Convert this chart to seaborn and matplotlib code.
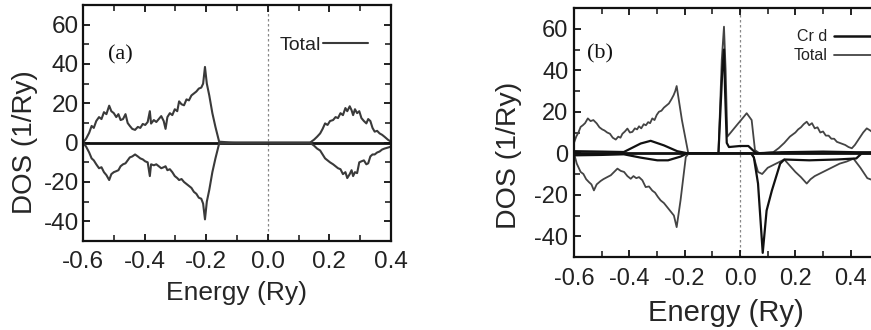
import matplotlib
matplotlib.use("Agg")
import matplotlib.pyplot as plt
import seaborn as sns
import pandas as pd
from matplotlib.ticker import MultipleLocator, FormatStrFormatter
from matplotlib.lines import Line2D

# ---- panel (a): total DOS, spin up / spin down ----
energy_a = [-0.600, -0.590, -0.580, -0.572, -0.565, -0.557, -0.548, -0.540, -0.532, -0.524,
            -0.515, -0.508, -0.500, -0.492, -0.485, -0.478, -0.470, -0.462, -0.455, -0.448,
            -0.440, -0.431, -0.422, -0.414, -0.406, -0.398, -0.390, -0.383, -0.379, -0.370,
            -0.362, -0.354, -0.346, -0.338, -0.332, -0.326, -0.318, -0.310, -0.302, -0.294,
            -0.288, -0.280, -0.272, -0.264, -0.256, -0.248, -0.240, -0.232, -0.224, -0.216,
            -0.210, -0.204, -0.198, -0.190, -0.180, -0.170, -0.158, -0.140, -0.100, 0.000,
            0.100, 0.137, 0.150, 0.160, 0.170, 0.178, 0.186, 0.194, 0.202, 0.212,
            0.220, 0.228, 0.236, 0.244, 0.252, 0.258, 0.266, 0.272, 0.277, 0.283,
            0.290, 0.297, 0.304, 0.312, 0.320, 0.326, 0.333, 0.340, 0.347, 0.355,
            0.363, 0.371, 0.379, 0.390, 0.400]
total_up_a = [0, 2, 5, 8.5, 7.5, 11, 13, 12, 15.5, 14.5,
              18.8, 16, 15, 13, 14.5, 11.5, 12, 14.5, 10, 8.5,
              7, 6.5, 8, 7.5, 9.5, 9, 10.5, 16, 9.7, 11.5,
              10.5, 12, 13.5, 11, 7, 13, 15, 14, 17, 16,
              21, 19.5, 19, 22, 21.5, 24, 25, 26, 27.5, 28,
              30, 38.5, 30, 24, 15, 8, 0.5, 0.3, 0, 0,
              0, 0, 1.5, 3, 4.7, 7, 9.8, 9, 11, 11.5,
              13, 12.5, 15, 14, 17.6, 16, 18.5, 16.5, 14, 17,
              15, 16, 12.5, 11, 9.8, 12, 11, 7.5, 5.6, 6,
              4.7, 4, 3, 1.5, 0.5]
total_dn_a = [0, -2, -5, -8, -9, -11, -13, -12.5, -15, -16.5,
              -19, -16, -15, -14.5, -14, -12, -11, -10.5, -9, -7.5,
              -7, -6, -7, -8, -8.5, -9.5, -10, -17, -11, -11.5,
              -11, -12, -13, -12.5, -12, -14, -13.5, -15, -17, -18,
              -19, -18.5, -20, -21, -22, -23, -25, -26, -28, -28.5,
              -31, -39, -30, -24, -15, -8, -0.5, -0.3, 0, 0,
              0, 0, -1.5, -3, -4, -6, -8, -9, -10, -11,
              -12, -13, -13.5, -16, -15, -18, -16, -14, -17, -15,
              -15.5, -10, -9.5, -9, -11, -10.5, -7, -6, -6, -5,
              -4.5, -3.5, -3, -2.5, -2]

# ---- panel (b): Cr d and total DOS ----
energy_b_tot_up = [-0.600, -0.592, -0.584, -0.576, -0.568, -0.560, -0.550, -0.540, -0.530, -0.518,
                   -0.508, -0.498, -0.490, -0.480, -0.470, -0.460, -0.449, -0.440, -0.432, -0.425,
                   -0.416, -0.407, -0.398, -0.389, -0.380, -0.372, -0.365, -0.357, -0.348, -0.340,
                   -0.332, -0.325, -0.317, -0.309, -0.301, -0.293, -0.284, -0.275, -0.266, -0.257,
                   -0.248, -0.240, -0.234, -0.229, -0.210, -0.187, -0.120, -0.078, -0.066, -0.058,
                   -0.052, -0.046, -0.036, -0.012, 0.010, 0.024, 0.042, 0.054, 0.070, 0.120,
                   0.140, 0.160, 0.170, 0.180, 0.190, 0.200, 0.210, 0.220, 0.230, 0.241,
                   0.250, 0.260, 0.270, 0.280, 0.290, 0.300, 0.310, 0.320, 0.330, 0.340,
                   0.350, 0.360, 0.370, 0.380, 0.392, 0.404, 0.415, 0.430, 0.445, 0.458,
                   0.470, 0.480, 0.500]
total_up_b = [5, 8, 10, 12.7, 13.5, 14.5, 16.8, 15.5, 16, 14.4,
              12.5, 11.5, 11, 10, 9.4, 7.5, 6.6, 8, 7.5, 9.4,
              10.5, 11.9, 10, 10.3, 12, 11.5, 13, 12, 14, 13.5,
              15, 14.5, 16.8, 16, 18.5, 20, 20.5, 22, 23, 24,
              26, 28, 30, 32.4, 16, 0, 0, 0, 45, 61,
              40, 8, 9.6, 13.5, 17, 19.3, 16, 1.5, 0, 0.5,
              2.5, 5, 6.5, 8, 9, 10, 11.5, 12.5, 14, 15.2,
              13.5, 14.5, 12, 12.5, 10, 10.5, 8.5, 8.5, 7, 7,
              5.5, 5, 4.5, 4, 3, 2.4, 4, 7, 10, 12,
              11, 10, 8]
energy_b_tot_dn = [-0.600, -0.590, -0.576, -0.566, -0.556, -0.546, -0.537, -0.528, -0.518, -0.504,
                   -0.494, -0.480, -0.467, -0.455, -0.443, -0.431, -0.419, -0.407, -0.395, -0.385,
                   -0.375, -0.365, -0.353, -0.341, -0.329, -0.317, -0.307, -0.297, -0.287, -0.275,
                   -0.263, -0.251, -0.239, -0.229, -0.215, -0.196, -0.185, -0.120, 0.040, 0.050,
                   0.065, 0.080, 0.100, 0.130, 0.160, 0.180, 0.200, 0.220, 0.241, 0.255,
                   0.270, 0.285, 0.300, 0.330, 0.360, 0.385, 0.410, 0.435, 0.460, 0.480,
                   0.500]
total_dn_b = [0, -5, -9, -10, -12.5, -13.9, -15, -17.9, -15, -13.4,
              -12.5, -11.5, -10.6, -9, -7.4, -8.5, -9, -11, -12.3, -11,
              -12, -11.5, -13, -16.3, -16, -18, -19, -21, -22.7, -24,
              -26, -28, -30, -35.6, -22.7, -1.8, 0, 0, 0, -2,
              -9, -10, -7, -5, -3, -6, -9, -11.5, -14.6, -12.5,
              -11, -10, -9, -7, -5, -4, -2.6, -7, -12, -13,
              -14]
energy_b_cr_up = [-0.600, -0.500, -0.420, -0.359, -0.323, -0.275, -0.227, -0.190, -0.120, -0.078,
                  -0.064, -0.058, -0.054, -0.048, -0.040, 0.000, 0.030, 0.050, 0.060, 0.150,
                  0.300, 0.420, 0.500]
cr_d_up_b = [1, 0.8, 0.6, 4.7, 6, 3.8, 1, 0, 0, 0,
             40, 50, 30, 5, 3, 3.5, 3.5, 1, 0, 0.5,
             0.8, 0.5, 0.5]
energy_b_cr_dn = [-0.600, -0.500, -0.420, -0.359, -0.299, -0.260, -0.215, -0.190, -0.120, 0.040,
                  0.050, 0.065, 0.082, 0.096, 0.115, 0.145, 0.160, 0.250, 0.350, 0.420,
                  0.440, 0.500]
cr_d_dn_b = [-1, -0.8, -0.5, -2.1, -3.4, -3.4, -1.6, 0, 0, 0,
             -2, -14.6, -48, -27.6, -18, -5, -3, -3.4, -3, -2.5,
             0, 0]

sns.set_style("ticks")
plt.rcParams.update({
    'font.family': ['Liberation Sans', 'DejaVu Sans'],
    'axes.unicode_minus': False,
    'axes.linewidth': 1.6,
    'axes.edgecolor': '#111111',
    'text.color': '#222222',
    'xtick.color': '#111111', 'ytick.color': '#111111',
    'xtick.labelcolor': '#222222', 'ytick.labelcolor': '#222222',
    'xtick.direction': 'in', 'ytick.direction': 'in',
    'xtick.top': True, 'ytick.right': True,
    'xtick.major.size': 5, 'ytick.major.size': 5,
    'xtick.minor.size': 4, 'ytick.minor.size': 4,
    'xtick.major.width': 1.3, 'ytick.major.width': 1.3,
    'xtick.minor.width': 1.1, 'ytick.minor.width': 1.1,
})

fig = plt.figure(figsize=(8.71, 3.3), dpi=100)
ax_a = fig.add_axes([0.0953, 0.2697, 0.3536, 0.7152])
ax_b = fig.add_axes([0.6590, 0.2212, 0.3495, 0.7545])

TOTAL_COLOR = "#3a3a3a"


def style_axis(ax, tick_size, pad_x, pad_y):
    ax.set_ylim(-50, 70)
    ax.xaxis.set_major_locator(MultipleLocator(0.2))
    ax.xaxis.set_minor_locator(MultipleLocator(0.1))
    ax.yaxis.set_minor_locator(MultipleLocator(10))
    ax.set_yticks([-40, -20, 0, 20, 40, 60])
    ax.xaxis.set_major_formatter(FormatStrFormatter('%.1f'))
    ax.tick_params(axis='x', which='both', labelsize=tick_size, pad=pad_x)
    ax.tick_params(axis='y', which='both', labelsize=tick_size, pad=pad_y)
    ax.axvline(0.0, color='#888888', linestyle=(0, (2, 2)), linewidth=0.9, zorder=0)
    ax.axhline(0.0, color='#111111', linewidth=2.0, zorder=1)


# ---- panel (a) ----
df_a = pd.DataFrame({"Energy": energy_a, "up": total_up_a, "dn": total_dn_a})
sns.lineplot(data=df_a, x="Energy", y="up", ax=ax_a, color=TOTAL_COLOR, linewidth=1.5, estimator=None)
sns.lineplot(data=df_a, x="Energy", y="dn", ax=ax_a, color=TOTAL_COLOR, linewidth=1.5, estimator=None)
style_axis(ax_a, 17.5, 7, 3)
ax_a.set_xlim(-0.6, 0.4)
ax_a.set_xlabel("Energy (Ry)", fontsize=19)
ax_a.set_ylabel("DOS (1/Ry)", fontsize=20)
ax_a.xaxis.set_label_coords(0.5, -0.17)
ax_a.yaxis.set_label_coords(-0.145, 0.42)
ax_a.text(0.12, 0.79, "(a)", transform=ax_a.transAxes, ha='center', va='center',
          fontsize=16, family='Liberation Serif', color='#111111')
h_a = [Line2D([], [], color=TOTAL_COLOR, linewidth=1.5)]
ax_a.legend(h_a, ["Total"], loc='center right', bbox_to_anchor=(0.925, 0.83),
            frameon=False, markerfirst=False, fontsize=14, handlelength=2.3,
            handletextpad=0.1, borderaxespad=0, borderpad=0)

# ---- panel (b) ----
df_tu = pd.DataFrame({"Energy": energy_b_tot_up, "DOS": total_up_b})
df_td = pd.DataFrame({"Energy": energy_b_tot_dn, "DOS": total_dn_b})
df_cu = pd.DataFrame({"Energy": energy_b_cr_up, "DOS": cr_d_up_b})
df_cd = pd.DataFrame({"Energy": energy_b_cr_dn, "DOS": cr_d_dn_b})
for df in (df_tu, df_td):
    sns.lineplot(data=df, x="Energy", y="DOS", ax=ax_b, color="#444444", linewidth=1.3, estimator=None)
for df in (df_cu, df_cd):
    sns.lineplot(data=df, x="Energy", y="DOS", ax=ax_b, color="#111111", linewidth=1.6, estimator=None)
style_axis(ax_b, 17, 8, 4)
ax_b.set_xlim(-0.6, 0.5)
ax_b.set_xlabel("Energy (Ry)", fontsize=21)
ax_b.set_ylabel("DOS (1/Ry)", fontsize=20.5)
ax_b.xaxis.set_label_coords(0.5, -0.17)
ax_b.yaxis.set_label_coords(-0.17, 0.41)
ax_b.text(0.085, 0.815, "(b)", transform=ax_b.transAxes, ha='center', va='center',
          fontsize=16, family='Liberation Serif', color='#111111')
h_b = [Line2D([], [], color="#111111", linewidth=1.8), Line2D([], [], color="#444444", linewidth=1.3)]
ax_b.legend(h_b, ["Cr d", "Total"], loc='upper right', bbox_to_anchor=(1.0, 0.915),
            frameon=False, markerfirst=False, fontsize=11.5, handlelength=2.8,
            handletextpad=0.4, labelspacing=0.25, borderaxespad=0, borderpad=0)

fig.savefig("out.png", dpi=100)
